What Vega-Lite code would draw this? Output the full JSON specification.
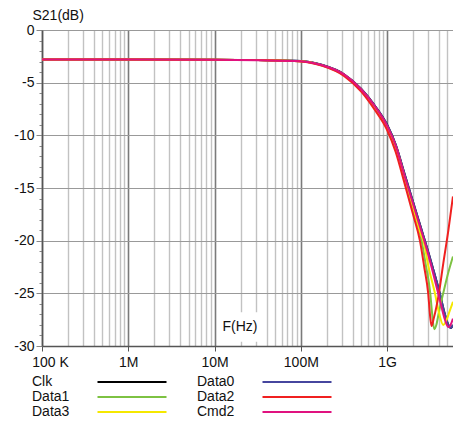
{
  "$schema": "https://vega.github.io/schema/vega-lite/v6.json",
  "width": 411,
  "height": 316,
  "autosize": {"type": "none"},
  "padding": {"left": 42, "top": 30, "right": 0, "bottom": 75},
  "background": "white",
  "config": {
    "font": "Liberation Sans",
    "view": {"stroke": null},
    "axis": {"labelFont": "Liberation Sans", "titleFont": "Liberation Sans"},
    "legend": {"labelFont": "Liberation Sans"}
  },
  "layer": [
    {
      "data": {
        "values": [
          {"s": "Clk", "f": 1e5, "db": -2.8}, {"s": "Clk", "f": 1e6, "db": -2.8}, {"s": "Clk", "f": 1e7, "db": -2.82}, {"s": "Clk", "f": 3.162e7, "db": -2.86}, {"s": "Clk", "f": 1e8, "db": -2.95}, {"s": "Clk", "f": 1.778e8, "db": -3.33}, {"s": "Clk", "f": 3.162e8, "db": -4.2}, {"s": "Clk", "f": 5.012e8, "db": -5.6}, {"s": "Clk", "f": 7.079e8, "db": -7.1}, {"s": "Clk", "f": 1e9, "db": -9.0}, {"s": "Clk", "f": 1.259e9, "db": -10.9}, {"s": "Clk", "f": 1.585e9, "db": -13.6}, {"s": "Clk", "f": 1.995e9, "db": -16.3}, {"s": "Clk", "f": 2.512e9, "db": -19.0}, {"s": "Clk", "f": 2.786e9, "db": -20.2}, {"s": "Clk", "f": 3.388e9, "db": -22.6}, {"s": "Clk", "f": 4.074e9, "db": -25.0}, {"s": "Clk", "f": 4.677e9, "db": -27.0}, {"s": "Clk", "f": 5.129e9, "db": -28.0}, {"s": "Clk", "f": 5.433e9, "db": -28.3}, {"s": "Clk", "f": 5.794e9, "db": -28.0},

          {"s": "Data0", "f": 1e5, "db": -2.8}, {"s": "Data0", "f": 1e6, "db": -2.8}, {"s": "Data0", "f": 1e7, "db": -2.82}, {"s": "Data0", "f": 3.162e7, "db": -2.86}, {"s": "Data0", "f": 1e8, "db": -2.95}, {"s": "Data0", "f": 1.778e8, "db": -3.33}, {"s": "Data0", "f": 3.162e8, "db": -4.2}, {"s": "Data0", "f": 5.012e8, "db": -5.6}, {"s": "Data0", "f": 7.079e8, "db": -7.1}, {"s": "Data0", "f": 1e9, "db": -9.0}, {"s": "Data0", "f": 1.259e9, "db": -10.9}, {"s": "Data0", "f": 1.585e9, "db": -13.6}, {"s": "Data0", "f": 1.995e9, "db": -16.3}, {"s": "Data0", "f": 2.512e9, "db": -19.0}, {"s": "Data0", "f": 2.786e9, "db": -20.2}, {"s": "Data0", "f": 3.388e9, "db": -22.6}, {"s": "Data0", "f": 4.074e9, "db": -25.0}, {"s": "Data0", "f": 4.677e9, "db": -27.0}, {"s": "Data0", "f": 5.129e9, "db": -28.0}, {"s": "Data0", "f": 5.433e9, "db": -28.3}, {"s": "Data0", "f": 5.794e9, "db": -28.0},

          {"s": "Data1", "f": 1e5, "db": -2.8}, {"s": "Data1", "f": 1e6, "db": -2.8}, {"s": "Data1", "f": 1e7, "db": -2.82}, {"s": "Data1", "f": 3.162e7, "db": -2.86}, {"s": "Data1", "f": 1e8, "db": -2.97}, {"s": "Data1", "f": 1.778e8, "db": -3.38}, {"s": "Data1", "f": 3.162e8, "db": -4.3}, {"s": "Data1", "f": 5.012e8, "db": -5.75}, {"s": "Data1", "f": 7.079e8, "db": -7.35}, {"s": "Data1", "f": 1e9, "db": -9.3}, {"s": "Data1", "f": 1.259e9, "db": -11.3}, {"s": "Data1", "f": 1.585e9, "db": -14.1}, {"s": "Data1", "f": 1.995e9, "db": -17.0}, {"s": "Data1", "f": 2.512e9, "db": -20.0}, {"s": "Data1", "f": 2.818e9, "db": -22.4}, {"s": "Data1", "f": 3.162e9, "db": -25.0}, {"s": "Data1", "f": 3.311e9, "db": -26.8}, {"s": "Data1", "f": 3.516e9, "db": -28.4}, {"s": "Data1", "f": 3.715e9, "db": -28.0}, {"s": "Data1", "f": 3.981e9, "db": -26.8}, {"s": "Data1", "f": 4.467e9, "db": -25.0}, {"s": "Data1", "f": 5.012e9, "db": -23.3}, {"s": "Data1", "f": 5.794e9, "db": -21.5},

          {"s": "Data3", "f": 1e5, "db": -2.8}, {"s": "Data3", "f": 1e6, "db": -2.8}, {"s": "Data3", "f": 1e7, "db": -2.82}, {"s": "Data3", "f": 3.162e7, "db": -2.86}, {"s": "Data3", "f": 1e8, "db": -2.96}, {"s": "Data3", "f": 1.778e8, "db": -3.37}, {"s": "Data3", "f": 3.162e8, "db": -4.25}, {"s": "Data3", "f": 5.012e8, "db": -5.7}, {"s": "Data3", "f": 7.079e8, "db": -7.25}, {"s": "Data3", "f": 1e9, "db": -9.2}, {"s": "Data3", "f": 1.259e9, "db": -11.1}, {"s": "Data3", "f": 1.585e9, "db": -13.9}, {"s": "Data3", "f": 1.995e9, "db": -16.8}, {"s": "Data3", "f": 2.512e9, "db": -19.6}, {"s": "Data3", "f": 2.63e9, "db": -20.0}, {"s": "Data3", "f": 3.02e9, "db": -22.5}, {"s": "Data3", "f": 3.581e9, "db": -25.0}, {"s": "Data3", "f": 3.981e9, "db": -26.8}, {"s": "Data3", "f": 4.467e9, "db": -28.0}, {"s": "Data3", "f": 4.898e9, "db": -27.5}, {"s": "Data3", "f": 5.248e9, "db": -26.8}, {"s": "Data3", "f": 5.794e9, "db": -25.8},

          {"s": "Data2", "f": 1e5, "db": -2.8}, {"s": "Data2", "f": 1e6, "db": -2.8}, {"s": "Data2", "f": 1e7, "db": -2.82}, {"s": "Data2", "f": 3.162e7, "db": -2.86}, {"s": "Data2", "f": 1e8, "db": -2.98}, {"s": "Data2", "f": 1.778e8, "db": -3.4}, {"s": "Data2", "f": 3.162e8, "db": -4.35}, {"s": "Data2", "f": 5.012e8, "db": -5.85}, {"s": "Data2", "f": 7.079e8, "db": -7.5}, {"s": "Data2", "f": 1e9, "db": -9.5}, {"s": "Data2", "f": 1.259e9, "db": -11.6}, {"s": "Data2", "f": 1.585e9, "db": -14.5}, {"s": "Data2", "f": 1.995e9, "db": -17.5}, {"s": "Data2", "f": 2.399e9, "db": -20.0}, {"s": "Data2", "f": 2.692e9, "db": -22.5}, {"s": "Data2", "f": 2.992e9, "db": -25.0}, {"s": "Data2", "f": 3.162e9, "db": -27.3}, {"s": "Data2", "f": 3.273e9, "db": -28.1}, {"s": "Data2", "f": 3.467e9, "db": -27.4}, {"s": "Data2", "f": 3.981e9, "db": -25.0}, {"s": "Data2", "f": 4.467e9, "db": -22.2}, {"s": "Data2", "f": 5.129e9, "db": -19.0}, {"s": "Data2", "f": 5.794e9, "db": -15.8},

          {"s": "Cmd2", "f": 1e5, "db": -2.8}, {"s": "Cmd2", "f": 1e6, "db": -2.8}, {"s": "Cmd2", "f": 1e7, "db": -2.82}, {"s": "Cmd2", "f": 3.162e7, "db": -2.87}, {"s": "Cmd2", "f": 1e8, "db": -2.96}, {"s": "Cmd2", "f": 1.778e8, "db": -3.35}, {"s": "Cmd2", "f": 3.162e8, "db": -4.22}, {"s": "Cmd2", "f": 5.012e8, "db": -5.65}, {"s": "Cmd2", "f": 7.079e8, "db": -7.15}, {"s": "Cmd2", "f": 1e9, "db": -9.1}, {"s": "Cmd2", "f": 1.259e9, "db": -11.0}, {"s": "Cmd2", "f": 1.585e9, "db": -13.8}, {"s": "Cmd2", "f": 1.995e9, "db": -16.5}, {"s": "Cmd2", "f": 2.512e9, "db": -19.2}, {"s": "Cmd2", "f": 2.786e9, "db": -20.4}, {"s": "Cmd2", "f": 3.388e9, "db": -23.0}, {"s": "Cmd2", "f": 4.074e9, "db": -25.6}, {"s": "Cmd2", "f": 4.677e9, "db": -27.5}, {"s": "Cmd2", "f": 5.129e9, "db": -28.2}, {"s": "Cmd2", "f": 5.433e9, "db": -28.0}, {"s": "Cmd2", "f": 5.794e9, "db": -27.4}
        ]
      },
      "mark": {"type": "line", "strokeWidth": 2, "interpolate": "monotone", "clip": true},
      "encoding": {
        "x": {
          "field": "f",
          "type": "quantitative",
          "scale": {"type": "log", "domain": [100000, 5800000000], "nice": false},
          "axis": {
            "title": null,
            "tickCount": 200,
            "values": [100000, 200000, 300000, 400000, 500000, 600000, 700000, 800000, 900000, 1000000, 2000000, 3000000, 4000000, 5000000, 6000000, 7000000, 8000000, 9000000, 10000000, 20000000, 30000000, 40000000, 50000000, 60000000, 70000000, 80000000, 90000000, 100000000, 200000000, 300000000, 400000000, 500000000, 600000000, 700000000, 800000000, 900000000, 1000000000, 2000000000, 3000000000, 4000000000, 5000000000],
            "labelExpr": "datum.value == 1e5 ? '100 K' : datum.value == 1e6 ? '1M' : datum.value == 1e7 ? '10M' : datum.value == 1e8 ? '100M' : datum.value == 1e9 ? '1G' : ''",
            "labelFlush": false,
            "labelOverlap": false,
            "labelFontSize": 14,
            "labelColor": "#111111",
            "labelPadding": 4,
            "labelOffset": {"condition": {"test": "datum.value == 1e5", "value": 8}, "value": 0},
            "tickSize": 5,
            "tickColor": "#555555",
            "tickOpacity": {"condition": {"test": "indexof([1e5,1e6,1e7,1e8,1e9], datum.value) >= 0", "value": 1}, "value": 0},
            "grid": true,
            "gridColor": {"condition": {"test": "indexof([1e5,1e6,1e7,1e8,1e9], datum.value) >= 0", "value": "#7a7a7a"}, "value": "#c2c2c2"},
            "gridWidth": {"condition": {"test": "indexof([1e5,1e6,1e7,1e8,1e9], datum.value) >= 0", "value": 1.6}, "value": 1.4},
            "domainColor": "#555555",
            "domainWidth": 1.5
          }
        },
        "y": {
          "field": "db",
          "type": "quantitative",
          "scale": {"domain": [-30, 0], "nice": false},
          "axis": {
            "tickCount": 200,
            "values": [-30, -29, -28, -27, -26, -25, -24, -23, -22, -21, -20, -19, -18, -17, -16, -15, -14, -13, -12, -11, -10, -9, -8, -7, -6, -5, -4, -3, -2, -1, 0],
            "labelExpr": "indexof([-30,-25,-20,-15,-10,-5,0], datum.value) >= 0 ? '' + datum.value : ''",
            "labelOverlap": false,
            "labelFontSize": 14,
            "labelColor": "#111111",
            "labelPadding": 2,
            "tickSize": {"condition": {"test": "indexof([-30,-25,-20,-15,-10,-5,0], datum.value) >= 0", "value": 6}, "value": 3},
            "tickColor": "#888888",
            "grid": true,
            "gridColor": "#999999",
            "gridWidth": 1.2,
            "gridOpacity": {"condition": {"test": "indexof([-30,-25,-20,-15,-10,-5,0], datum.value) >= 0", "value": 1}, "value": 0},
            "domainColor": "#555555",
            "domainWidth": 1.5,
            "title": "S21(dB)",
            "titleAngle": 0,
            "titleAlign": "left",
            "titleBaseline": "middle",
            "titleX": -10,
            "titleY": -15,
            "titleFontSize": 14,
            "titleFontWeight": "normal",
            "titleColor": "#111111"
          }
        },
        "color": {
          "field": "s",
          "type": "nominal",
          "sort": null,
          "scale": {
            "domain": ["Clk", "Data1", "Data3", "Data0", "Data2", "Cmd2"],
            "range": ["#000000", "#7dc242", "#f5e800", "#46469e", "#f02020", "#e0127f"]
          },
          "legend": {
            "orient": "none",
            "legendX": -10,
            "legendY": 345,
            "columns": 2,
            "title": null,
            "symbolType": "stroke",
            "symbolStrokeWidth": 2,
            "symbolSize": 4761,
            "labelFontSize": 14,
            "labelColor": "#111111",
            "labelLimit": 0,
            "columnPadding": 26,
            "rowPadding": 1,
            "encode": {
              "symbols": {"update": {"x": {"value": 100}, "y": {"value": 7}}},
              "labels": {"update": {"x": {"value": 0}, "y": {"value": 7}}}
            }
          }
        }
      }
    },
    {
      "data": {"values": [{}]},
      "mark": {"type": "rect", "color": "white"},
      "encoding": {
        "x": {"datum": 10700000, "type": "quantitative"},
        "x2": {"datum": 36000000},
        "y": {"datum": -26.8, "type": "quantitative"},
        "y2": {"datum": -29.6}
      }
    },
    {
      "data": {"values": [{}]},
      "mark": {"type": "text", "text": "F(Hz)", "fontSize": 14, "color": "#111111", "font": "Liberation Sans"},
      "encoding": {
        "x": {"datum": 19700000, "type": "quantitative"},
        "y": {"datum": -28.15, "type": "quantitative"}
      }
    }
  ]
}
